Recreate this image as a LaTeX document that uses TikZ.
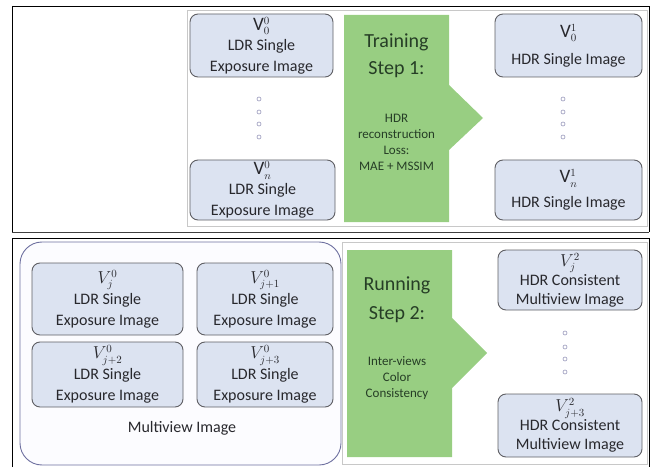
\documentclass[tikz,border=0pt]{standalone}
\usepackage{fontspec}
\setmainfont{Carlito}
\definecolor{boxfill}{RGB}{220,227,241}
\definecolor{boxline}{RGB}{95,95,100}
\definecolor{arrowfill}{RGB}{152,206,130}
\definecolor{arrowtext}{RGB}{38,62,38}
\definecolor{txt}{RGB}{40,40,45}
\definecolor{dotcol}{RGB}{150,150,185}
\definecolor{mvline}{RGB}{110,112,160}
\definecolor{frameline}{RGB}{200,200,200}
\tikzset{
  imgbox/.style={draw=boxline, line width=0.9pt, fill=boxfill, rounded corners=8pt, align=center, text=txt, inner sep=0pt},
  boxtext/.style={font=\fontsize{16}{21}\selectfont},
  bigtext/.style={text=arrowtext, font=\fontsize{20}{28}\selectfont, align=center, inner sep=0pt},
  smalltext/.style={text=arrowtext, font=\fontsize{13}{16}\selectfont, align=center, inner sep=0pt},
  dotmark/.style={circle, draw=dotcol, line width=0.6pt, minimum size=4pt, inner sep=0pt},
  greenarrow/.style={fill=arrowfill, draw=none}
}
\begin{document}
\begin{tikzpicture}[x=1pt, y=-1pt]
\useasboundingbox (0,0) rectangle (651,468);
% outer frames
\draw[black, line width=0.9pt] (12,6) -- (649,6) -- (649,232);
\draw[black!75, line width=1.6pt] (12,232.5) -- (649,232.5);
\draw[black, line width=0.9pt] (12,6) -- (12,232);
\draw[black, line width=0.9pt] (12,467) -- (12,238.5) -- (649,238.5) -- (649,467);
% inner image frames
\draw[frameline, line width=0.8pt] (187,10) rectangle (647,226);
\draw[frameline, line width=0.8pt] (342,242) rectangle (647,464);

% ===== Top panel =====
\node[imgbox, boxtext, minimum width=143pt, minimum height=63pt] (a0) at (261.5,45.5)
  {{\fontsize{19}{21}\selectfont V}$^{0}_{0}$\\[-1pt]LDR Single\\Exposure Image};
\node[imgbox, boxtext, minimum width=145pt, minimum height=60pt] (an) at (262.5,190)
  {{\fontsize{19}{21}\selectfont V}$^{0}_{n}$\\[-1pt]LDR Single\\Exposure Image};
\node[imgbox, boxtext, minimum width=147pt, minimum height=63pt] (b0) at (568.5,45.5)
  {{\fontsize{19}{21}\selectfont V}$^{1}_{0}$\\[6pt]HDR Single Image};
\node[imgbox, boxtext, minimum width=147pt, minimum height=60pt] (bn) at (568.5,190)
  {{\fontsize{19}{21}\selectfont V}$^{1}_{n}$\\[4pt]HDR Single Image};

\path[greenarrow] (344,15) -- (449,15) -- (449,85) -- (483,118) -- (449,150) -- (449,222) -- (344,222) -- cycle;
\node[bigtext] (t1) at (396.5,42) {Training};
\node[bigtext] (t2) at (396.5,70) {Step 1:};
\node[smalltext] (t3) at (396.5,142) {HDR\\reconstruction\\Loss:\\MAE + MSSIM};

\foreach \y [count=\i] in {99,112,124,137} {
  \node[dotmark] (ld\i) at (259,\y) {};
  \node[dotmark] (rd\i) at (563,\y) {};
}

% ===== Bottom panel =====
\draw[mvline, line width=0.9pt, fill=blue!1, rounded corners=22pt] (20,242) rectangle (341,465);
\node[imgbox, boxtext, minimum width=151pt, minimum height=72pt] (m1) at (107.5,299)
  {$V_j^0$\\LDR Single\\Exposure Image};
\node[imgbox, boxtext, minimum width=136pt, minimum height=72pt] (m2) at (265,299)
  {$V_{j+1}^0$\\LDR Single\\Exposure Image};
\node[imgbox, boxtext, minimum width=151pt, minimum height=65pt] (m3) at (107.5,374.5)
  {$V_{j+2}^0$\\LDR Single\\Exposure Image};
\node[imgbox, boxtext, minimum width=136pt, minimum height=65pt] (m4) at (265,374.5)
  {$V_{j+3}^0$\\LDR Single\\Exposure Image};
\node[text=txt, font=\fontsize{16}{20}\selectfont, inner sep=0pt] (mvl) at (182,428) {Multiview Image};

\path[greenarrow] (347,250) -- (452,250) -- (452,318) -- (487,353) -- (452,388) -- (452,457) -- (347,457) -- cycle;
\node[bigtext] (r1) at (397,285) {Running};
\node[bigtext] (r2) at (397,315) {Step 2:};
\node[smalltext] (r3) at (397,378.5) {Inter-views\\Color\\Consistency};

\node[imgbox, boxtext, font=\fontsize{16}{19}\selectfont, minimum width=144pt, minimum height=60pt] (h1) at (570,280)
  {$V_j^2$\\HDR Consistent\\Multiview Image};
\node[imgbox, boxtext, font=\fontsize{16}{19}\selectfont, minimum width=144pt, minimum height=63pt] (h2) at (570,425.5)
  {$V_{j+3}^2$\\HDR Consistent\\Multiview Image};

\foreach \y [count=\i] in {333,347,359,372} {
  \node[dotmark] (hd\i) at (565,\y) {};
}
\end{tikzpicture}
\end{document}
